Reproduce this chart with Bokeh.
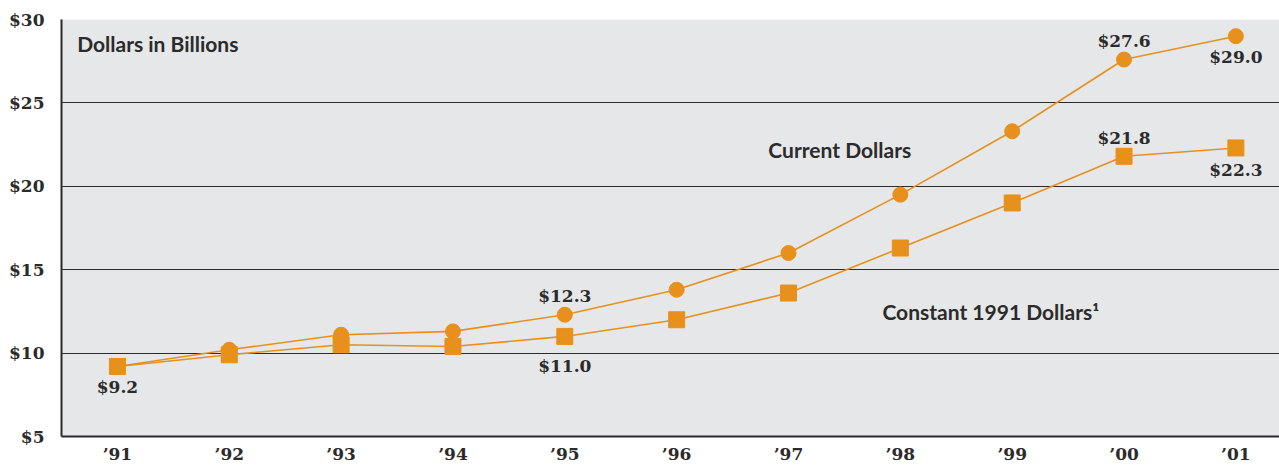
from bokeh.plotting import figure
from bokeh.models import FixedTicker, Label, ColumnDataSource
from bokeh.core.properties import value
from bokeh.embed import file_html
from bokeh.resources import INLINE

years = [1991, 1992, 1993, 1994, 1995, 1996, 1997, 1998, 1999, 2000, 2001]
current = [9.2, 10.2, 11.1, 11.3, 12.3, 13.8, 16.0, 19.5, 23.3, 27.6, 29.0]
constant = [9.2, 9.9, 10.5, 10.4, 11.0, 12.0, 13.6, 16.3, 19.0, 21.8, 22.3]
y_ticks = [5, 10, 15, 20, 25, 30]
x_tick_labels = ["\u201991", "\u201992", "\u201993", "\u201994", "\u201995", "\u201996",
                 "\u201997", "\u201998", "\u201999", "\u201900", "\u201901"]

# annotated points (indices into the series)
lab_idx_const = [0, 4, 9, 10]
lab_idx_curr = [4, 9, 10]

ORANGE = "#e8901c"
DARK = "#2b2b2b"
SERIF = "DejaVu Serif"
SANS = "Lato"

p = figure(width=1279, height=466, output_backend="svg", toolbar_location=None,
           x_range=(1990.5, 2001.39), y_range=(5, 30),
           min_border_left=61, min_border_right=0, min_border_top=19, min_border_bottom=27)
p.background_fill_color = "#e6e7e8"
p.border_fill_color = "white"
p.outline_line_color = None

p.xgrid.grid_line_color = None
p.ygrid.ticker = FixedTicker(ticks=y_ticks)
p.ygrid.grid_line_color = DARK
p.ygrid.grid_line_width = 1.2

p.yaxis.ticker = FixedTicker(ticks=y_ticks)
p.yaxis.major_label_overrides = {t: "$%d" % t for t in y_ticks}
p.xaxis.ticker = FixedTicker(ticks=years)
p.xaxis.major_label_overrides = {y: l for y, l in zip(years, x_tick_labels)}
for ax in (p.xaxis, p.yaxis):
    ax.axis_line_color = DARK
    ax.axis_line_width = 2
    ax.major_tick_line_color = None
    ax.minor_tick_line_color = None
    ax.major_tick_out = 0
    ax.major_tick_in = 0
    ax.major_label_text_color = DARK
    ax.major_label_text_font_style = "bold"
    ax.major_label_text_font = SERIF
    ax.major_label_text_font_size = "17px"
p.yaxis.major_label_standoff = 17
p.xaxis.major_label_standoff = 7

p.line(years, current, line_color=ORANGE, line_width=1.6)
p.line(years, constant, line_color=ORANGE, line_width=1.6)
p.scatter(years, current, marker="circle", size=15, fill_color=ORANGE, line_color=ORANGE)
p.scatter(years, constant, marker="square", size=16, fill_color=ORANGE, line_color=ORANGE)

def fmt(v):
    return "$%.1f" % v

const_offsets = [21, 30, -18, 22]
curr_offsets = [-19, -19, 21]
src_c = ColumnDataSource(dict(x=[years[i] for i in lab_idx_const],
                              y=[constant[i] for i in lab_idx_const],
                              t=[fmt(constant[i]) for i in lab_idx_const],
                              off=const_offsets))
src_u = ColumnDataSource(dict(x=[years[i] for i in lab_idx_curr],
                              y=[current[i] for i in lab_idx_curr],
                              t=[fmt(current[i]) for i in lab_idx_curr],
                              off=curr_offsets))
for s in (src_c, src_u):
    p.text(x="x", y="y", text="t", y_offset="off", source=s,
           text_font=value(SERIF), text_font_style="bold", text_font_size="17px",
           text_color=DARK, text_align="center", text_baseline="middle")

lbl = dict(text_font=SANS, text_font_style="bold", text_font_size="21px",
           text_color=DARK, text_baseline="middle")
p.add_layout(Label(x=1990.64, y=28.57, text="Dollars in Billions", **lbl))
p.add_layout(Label(x=1996.82, y=22.2, text="Current Dollars", **lbl))
p.add_layout(Label(x=1997.84, y=12.5, text="Constant 1991 Dollars\u00b9", **lbl))

open("out.html", "w").write(file_html(p, INLINE))
